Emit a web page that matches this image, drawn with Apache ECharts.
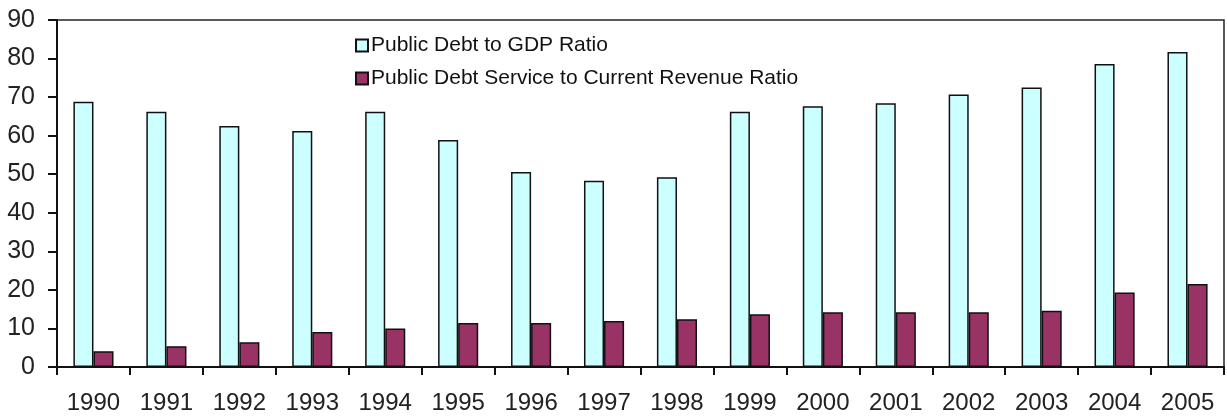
<!DOCTYPE html>
<html>
<head>
<meta charset="utf-8">
<script src="https://cdn.jsdelivr.net/npm/echarts@6/dist/echarts.min.js"></script>
<style>
  html, body { margin: 0; padding: 0; background: #fff; }
  #chart { width: 1227px; height: 416px; }
</style>
</head>
<body>
<div id="chart"></div>
<script>
// Years on the x axis
var years = ['1990', '1991', '1992', '1993', '1994', '1995', '1996', '1997',
             '1998', '1999', '2000', '2001', '2002', '2003', '2004', '2005'];

// Public debt to GDP ratio (%)
var debtToGdp = [68.8, 66.2, 62.5, 61.2, 66.2, 58.9, 50.6, 48.3,
                 49.2, 66.2, 67.6, 68.4, 70.7, 72.5, 78.6, 81.7];

// Public debt service to current revenue ratio (%)
var debtService = [4.1, 5.4, 6.4, 9.1, 10.0, 11.4, 11.4, 11.9,
                   12.4, 13.7, 14.2, 14.2, 14.2, 14.6, 19.3, 21.5];

var seriesNames = ['Public Debt to GDP Ratio', 'Public Debt Service to Current Revenue Ratio'];

var font = 'Liberation Sans, Arial, sans-serif';

var myChart = echarts.init(document.getElementById('chart'));

var options = {
    animation: false,
    backgroundColor: '#fff',
    grid: {
        left: 57,
        right: 3,
        top: 20,
        bottom: 49,
        show: true,
        borderColor: '#222',
        borderWidth: 1.5
    },
    legend: {
        orient: 'vertical',
        left: 350,
        top: 30,
        itemWidth: 12,
        itemHeight: 12,
        itemGap: 12,
        icon: 'rect',
        textStyle: { fontFamily: font, fontSize: 21, color: '#111', padding: [0, 0, 0, -2] },
        data: seriesNames
    },
    xAxis: {
        type: 'category',
        data: years,
        axisLine: { lineStyle: { color: '#111', width: 2 } },
        axisTick: { show: true, length: 8, alignWithLabel: false, lineStyle: { color: '#111', width: 2 } },
        axisLabel: { fontFamily: font, fontSize: 24, color: '#222', margin: 24 },
        splitLine: { show: false }
    },
    yAxis: {
        type: 'value',
        min: 0,
        max: 90,
        interval: 10,
        axisLine: { show: true, lineStyle: { color: '#111', width: 2 } },
        axisTick: { show: true, length: 9, lineStyle: { color: '#111', width: 2 } },
        axisLabel: { fontFamily: font, fontSize: 25, color: '#222', margin: 22 },
        splitLine: { show: false }
    },
    series: [
        {
            name: seriesNames[0],
            type: 'bar',
            data: debtToGdp,
            barGap: '0%',
            barCategoryGap: '45%',
            itemStyle: { color: '#CCFFFF', borderColor: '#111', borderWidth: 1.5 }
        },
        {
            name: seriesNames[1],
            type: 'bar',
            data: debtService,
            itemStyle: { color: '#993366', borderColor: '#111', borderWidth: 1.5 }
        }
    ]
};

myChart.setOption(options);
</script>
</body>
</html>
